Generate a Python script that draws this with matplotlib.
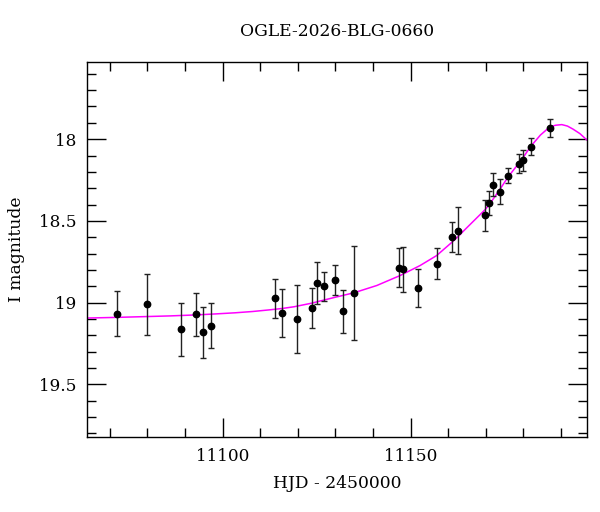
import matplotlib
matplotlib.use("Agg")
import matplotlib.pyplot as plt
from matplotlib.ticker import MultipleLocator

# Observations (HJD - 2450000, I mag, error)
hjd = [11071.8, 11079.8, 11088.8, 11092.8, 11094.8, 11096.8, 11113.9, 11115.8,
       11119.8, 11123.8, 11125.0, 11126.9, 11129.9, 11131.9, 11135.0, 11146.8,
       11148.0, 11151.9, 11156.9, 11160.9, 11162.7, 11169.8, 11170.9, 11172.0,
       11173.7, 11175.9, 11178.7, 11180.0, 11181.9, 11187.0]
mag = [19.067, 19.010, 19.163, 19.071, 19.181, 19.140, 18.974, 19.061,
       19.100, 19.031, 18.878, 18.901, 18.862, 19.053, 18.941, 18.787,
       18.797, 18.911, 18.762, 18.598, 18.559, 18.466, 18.390, 18.279,
       18.321, 18.224, 18.149, 18.128, 18.045, 17.931]
err = [0.137, 0.187, 0.163, 0.133, 0.155, 0.137, 0.117, 0.146,
       0.210, 0.123, 0.128, 0.090, 0.090, 0.132, 0.288, 0.120,
       0.138, 0.117, 0.095, 0.094, 0.144, 0.096, 0.072, 0.070,
       0.075, 0.046, 0.058, 0.064, 0.051, 0.055]

# Model curve
model_t = [11064.1, 11071.9, 11079.8, 11086.0, 11092.9, 11098.0, 11103.3, 11108.0,
           11112.0, 11115.7, 11119.0, 11123.7, 11125.9, 11129.4, 11135.0, 11141.0,
           11147.2, 11152.5, 11156.9, 11161.3, 11163.1, 11164.0, 11166.9, 11169.8,
           11170.9, 11173.5, 11176.0, 11179.5, 11181.9, 11184.5, 11186.9, 11188.5,
           11190.2, 11191.7, 11193.2, 11195.0, 11196.8]
model_m = [19.094, 19.090, 19.085, 19.081, 19.075, 19.069, 19.062, 19.054,
           19.045, 19.036, 19.025, 19.003, 18.990, 18.970, 18.939, 18.895,
           18.834, 18.773, 18.712, 18.624, 18.585, 18.563, 18.497, 18.431,
           18.400, 18.315, 18.228, 18.126, 18.045, 17.975, 17.927, 17.915,
           17.911, 17.920, 17.939, 17.966, 18.004]

title = "OGLE-2026-BLG-0660"
xlabel = "HJD - 2450000"
ylabel = "I magnitude"

plt.rcParams['font.family'] = ['DejaVu Serif']

fig = plt.figure(figsize=(6.0, 5.12), dpi=100)
ax = fig.add_axes([0.1455, 0.147, 0.979 - 0.1455, 0.8783 - 0.147])

ax.plot(model_t, model_m, color='#ff00ff', lw=1.1, zorder=2)
ax.errorbar(hjd, mag, yerr=err, fmt='o', color='black', ecolor='#222222',
            elinewidth=1.0, capsize=2.4, capthick=1.0, markersize=4.6, zorder=3)

ax.set_xlim(11064.0, 11197.0)
ax.set_ylim(19.82, 17.53)

ax.xaxis.set_major_locator(MultipleLocator(50))
ax.xaxis.set_minor_locator(MultipleLocator(10))
ax.yaxis.set_major_locator(MultipleLocator(0.5))
ax.yaxis.set_minor_locator(MultipleLocator(0.1))
ax.yaxis.set_major_formatter(matplotlib.ticker.FuncFormatter(lambda v, p: f"{v:g}"))

ax.tick_params(which='both', direction='in', top=True, right=True, width=1.0,
               labelsize=12.2, colors='black')
ax.tick_params(which='major', length=13.5, pad=8)
ax.tick_params(which='minor', length=6.5)
for s in ax.spines.values():
    s.set_linewidth(1.0)

ax.set_title(title, fontsize=12.3, pad=19)
ax.set_xlabel(xlabel, fontsize=12.3, labelpad=7)
ax.set_ylabel(ylabel, fontsize=12.3, labelpad=10)

fig.savefig("out.png", dpi=100)
